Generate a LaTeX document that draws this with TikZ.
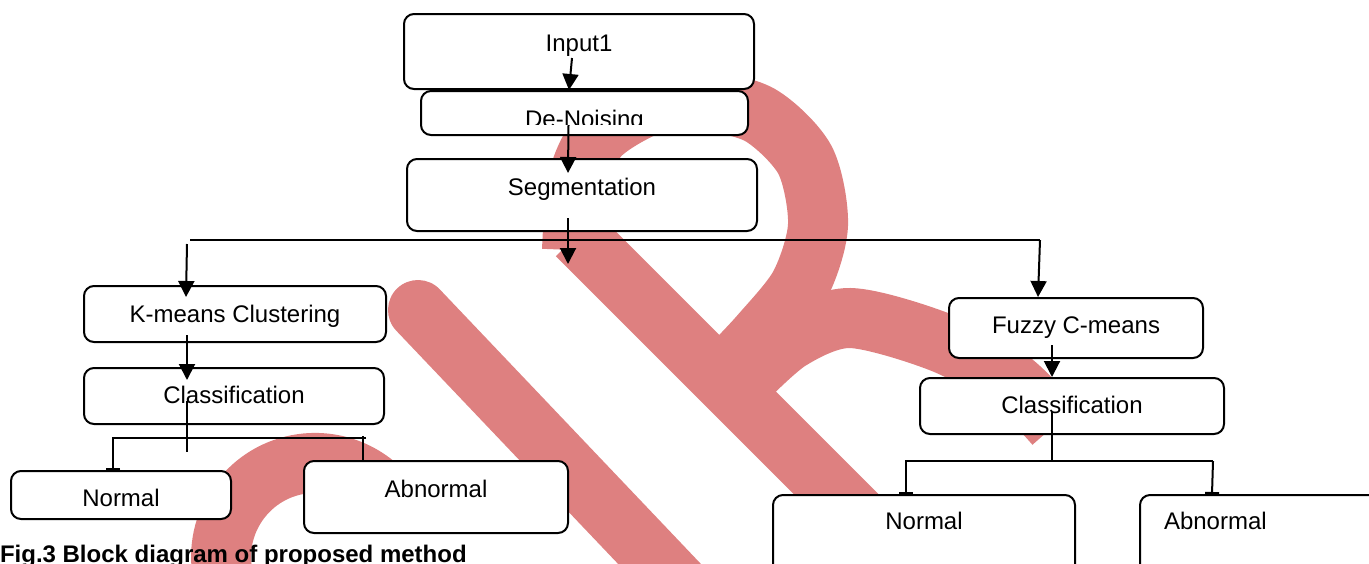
\documentclass[tikz,border=0pt]{standalone}
\usepackage{fontspec}
\setmainfont{Liberation Sans}
\usetikzlibrary{arrows.meta,calc}
\definecolor{wmred}{RGB}{222,128,128}

\begin{document}
\begin{tikzpicture}[x=0.5pt,y=-0.5pt,line width=1pt,
    blk/.style={draw,fill=white,rounded corners=5pt,inner sep=0pt,anchor=north west,font=\fontsize{12}{14}\selectfont},
    arr/.style={-{Triangle[width=8pt,length=8pt]}},
    tee/.style={-{Bar[width=7pt]}},
    wm/.style={draw=wmred,line width=30pt}]
\useasboundingbox (0,0) rectangle (1369,563);
\clip (0,0) rectangle (1369,563);

% watermark
\draw[wm] (577,235) -- (945,603);
\draw[wm] plot[smooth] coordinates {(572,250) (578,180) (600,135) (650,105) (700,100) (760,115) (805,160) (818,225) (800,285) (760,335) (725,372)};
\draw[wm] plot[smooth] coordinates {(740,385) (790,340) (850,318) (940,342) (1010,380) (1055,425)};
\draw[wm,line cap=round] (418,310) -- (690,596);
\draw[wm] (222,570) arc[start angle=172,end angle=335,radius=94];

% blocks
\node[blk,minimum width=175pt,text height=18.5pt,text depth=19pt] (in) at (403,13) {Input1};
\node[blk,minimum width=163.5pt,minimum height=22pt] (dn) at (420,90) {};
\begin{scope}
  \clip (dn.north west) rectangle ($(dn.south east)+(0,-12)$);
  \node[inner sep=0pt,anchor=base,font=\fontsize{12}{14}\selectfont] (dntxt) at ($(dn.south)+(0,-9)$) {De-Noising};
\end{scope}
\node[blk,minimum width=175pt,text height=18pt,text depth=18pt] (seg) at (406,158) {Segmentation};
\node[blk,minimum width=151pt,text height=18pt,text depth=10pt] (km) at (83,285) {K-means Clustering};
\node[blk,minimum width=150pt,text height=17.5pt,text depth=10.5pt] (cl1) at (83,367) {Classification};
\node[blk,minimum width=110pt,text height=17.5pt,text depth=6.5pt] (nl) at (10,470) {Normal};
\node[blk,minimum width=132pt,text height=18pt,text depth=18pt] (ab1) at (303,460) {Abnormal};
\node[blk,minimum width=127pt,text height=17.5pt,text depth=12.5pt] (fcm) at (948,297) {Fuzzy C-means};
\node[blk,minimum width=152pt,text height=17.5pt,text depth=10.5pt] (cl2) at (919,377) {Classification};
\node[blk,minimum width=151pt,text height=17pt,text depth=33pt] (nr) at (772,494) {Normal};
\node[blk,inner xsep=12pt,text width=120pt,align=left,text height=17pt,text depth=33pt] (ar) at (1139,494) {Abnormal};

% connectors
\draw[arr] ($(in.south)+(-7,-32)$) -- ($(in.south)+(-10,0)$);
\draw[arr] ($(dn.south)+(-16,-11)$) -- ($(seg.north)+(-14,15)$);
\draw[arr] ($(seg.south)+(-14,-14)$) -- ($(seg.south)+(-14,32)$);
\coordinate (sl) at (190,240);
\coordinate (sr) at (1040,240);
\draw (sl) -- (sr);

\draw[arr] ($(sl)+(-3,4)$) -- ($(km.north)+(-49,12)$);
\draw[arr] ($(km.south)+(-48,-8)$) -- ($(cl1.north)+(-47,13)$);
\draw ($(cl1.south)+(-47,-24)$) -- ++(0,51);
\draw[tee] ($(cl1.south)+(132,13)$) -| ($(nl.north)+(-8,0)$);
\draw ($(ab1.north)+(-73,-24)$) -- ($(ab1.north)+(-73,0)$);

\draw[arr] (sr) -- ($(fcm.north)+(-38,0)$);
\draw[arr] ($(fcm.south)+(-24,-14)$) -- ($(cl2.north)+(-20,0)$);
\draw ($(cl2.south)+(-20,-23)$) -- ++(0,50);
\draw[tee] ($(cl2.south)+(141,26)$) -| ($(nr.north)+(-18,0)$);
\draw[tee] ($(cl2.south)+(141,26)$) -- ($(ar.north west)+(73,0)$);

\node[anchor=base west,inner sep=0pt,font=\bfseries\fontsize{12}{14}\selectfont] (cap) at (-1,562) {Fig.3 Block diagram of proposed method};
\end{tikzpicture}
\end{document}
